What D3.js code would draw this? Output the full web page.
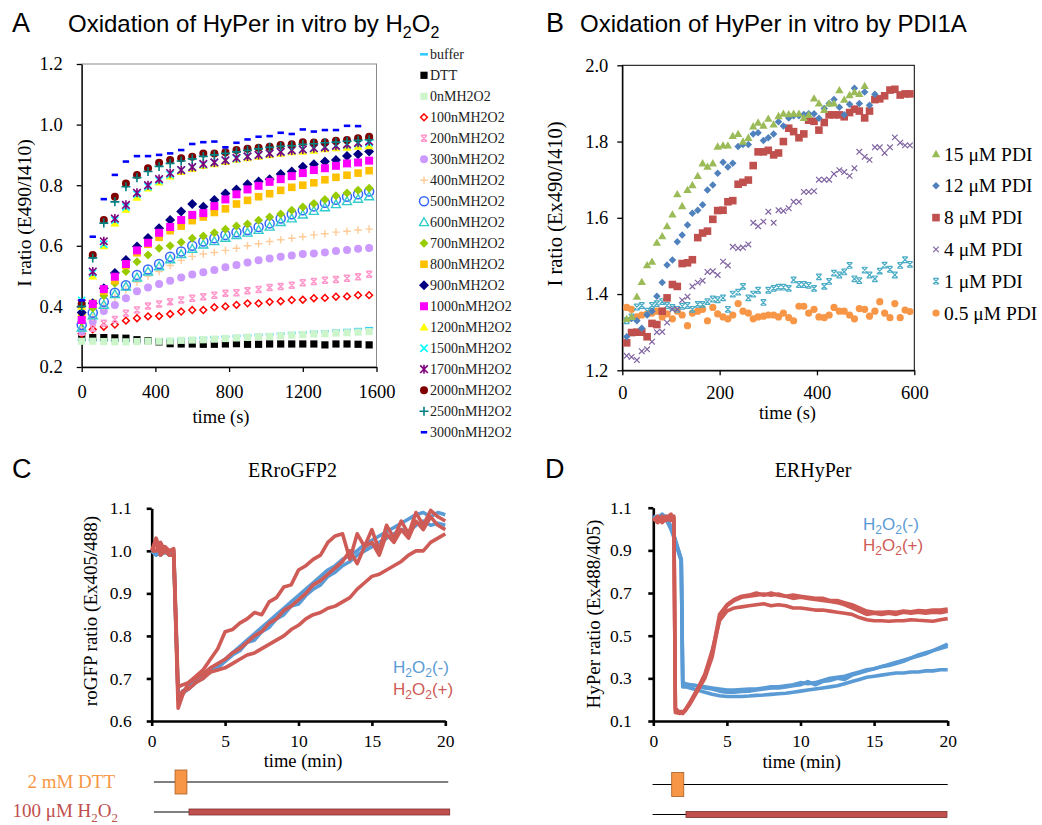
<!DOCTYPE html>
<html>
<head>
<meta charset="utf-8">
<script src="https://cdn.jsdelivr.net/npm/d3@7"></script>
<style>
body { margin: 0; background: #fff; }
</style>
</head>
<body>
<svg id="fig" width="1042" height="825"></svg>
<script>
// ---------- panel A : HyPer + H2O2 in vitro ----------
var timesA = [0,60,120,180,240,300,360,420,480,540,600,660,720,780,840,900,960,1020,1080,1140,1200,1260,1320,1380,1440,1500,1560]
var aBuffer = [0.290,0.288,0.288,0.287,0.287,0.288,0.288,0.289,0.290,0.292,0.294,0.296,0.298,0.300,0.302,0.304,0.306,0.308,0.310,0.312,0.314,0.316,0.318,0.320,0.322,0.325,0.328]
var aDTT = [0.295,0.297,0.297,0.296,0.295,0.290,0.287,0.283,0.277,0.276,0.276,0.275,0.275,0.276,0.277,0.275,0.275,0.276,0.276,0.276,0.276,0.276,0.273,0.276,0.276,0.275,0.273]
var a0 = [0.285,0.285,0.284,0.283,0.283,0.284,0.285,0.285,0.286,0.288,0.289,0.290,0.292,0.294,0.296,0.298,0.300,0.301,0.303,0.305,0.307,0.309,0.310,0.312,0.313,0.315,0.317]
var a100 = [0.310,0.324,0.333,0.340,0.353,0.361,0.367,0.368,0.375,0.383,0.388,0.388,0.397,0.400,0.405,0.410,0.410,0.415,0.417,0.421,0.422,0.427,0.428,0.432,0.433,0.437,0.437]
var a200 = [0.315,0.328,0.344,0.357,0.377,0.388,0.401,0.408,0.415,0.421,0.427,0.432,0.437,0.443,0.445,0.452,0.456,0.462,0.466,0.470,0.478,0.482,0.486,0.489,0.493,0.498,0.506]
var a300 = [0.320,0.350,0.385,0.405,0.427,0.450,0.462,0.474,0.485,0.495,0.505,0.513,0.520,0.529,0.537,0.545,0.552,0.558,0.564,0.568,0.573,0.575,0.578,0.583,0.586,0.590,0.593]
var a400 = [0.330,0.365,0.400,0.430,0.455,0.480,0.500,0.515,0.535,0.552,0.565,0.573,0.578,0.585,0.592,0.600,0.607,0.614,0.620,0.625,0.630,0.636,0.640,0.645,0.648,0.652,0.655]
var a500 = [0.339,0.379,0.415,0.445,0.470,0.504,0.522,0.540,0.564,0.581,0.600,0.614,0.625,0.636,0.645,0.652,0.662,0.674,0.690,0.704,0.717,0.730,0.742,0.752,0.762,0.770,0.779]
var a600 = [0.330,0.370,0.405,0.440,0.465,0.495,0.515,0.532,0.555,0.572,0.590,0.604,0.615,0.626,0.635,0.643,0.652,0.663,0.678,0.690,0.703,0.715,0.727,0.737,0.747,0.755,0.763]
var a700 = [0.350,0.395,0.435,0.476,0.515,0.547,0.570,0.592,0.600,0.612,0.625,0.632,0.643,0.655,0.665,0.672,0.684,0.695,0.705,0.717,0.728,0.740,0.753,0.765,0.774,0.783,0.790]
var a800 = [0.370,0.410,0.450,0.485,0.535,0.577,0.605,0.628,0.650,0.665,0.683,0.695,0.710,0.722,0.738,0.750,0.762,0.772,0.783,0.793,0.800,0.808,0.818,0.826,0.833,0.840,0.848]
var a900 = [0.380,0.410,0.460,0.510,0.553,0.598,0.626,0.658,0.685,0.713,0.738,0.729,0.751,0.773,0.786,0.803,0.812,0.820,0.837,0.845,0.861,0.869,0.878,0.883,0.896,0.902,0.911]
var a1000 = [0.355,0.408,0.457,0.498,0.540,0.585,0.610,0.643,0.662,0.685,0.702,0.708,0.731,0.753,0.770,0.786,0.798,0.811,0.820,0.830,0.840,0.850,0.856,0.864,0.872,0.875,0.881]
var a1200 = [0.400,0.500,0.600,0.675,0.720,0.760,0.790,0.810,0.830,0.845,0.855,0.865,0.870,0.878,0.885,0.890,0.895,0.900,0.905,0.910,0.912,0.915,0.920,0.923,0.925,0.928,0.930]
var a1500 = [0.420,0.510,0.605,0.685,0.728,0.770,0.795,0.815,0.835,0.850,0.860,0.868,0.875,0.882,0.888,0.895,0.900,0.905,0.910,0.915,0.918,0.922,0.926,0.930,0.933,0.937,0.940]
var a1700 = [0.410,0.515,0.615,0.690,0.735,0.775,0.800,0.820,0.840,0.850,0.860,0.870,0.875,0.882,0.890,0.895,0.900,0.905,0.910,0.915,0.918,0.922,0.925,0.930,0.935,0.940,0.945]
var a2000 = [0.408,0.570,0.685,0.762,0.806,0.834,0.856,0.874,0.883,0.889,0.894,0.905,0.905,0.909,0.916,0.920,0.924,0.927,0.933,0.935,0.942,0.941,0.942,0.947,0.949,0.955,0.960]
var a2500 = [0.400,0.560,0.675,0.745,0.795,0.825,0.845,0.862,0.872,0.880,0.887,0.895,0.900,0.905,0.910,0.915,0.920,0.925,0.928,0.930,0.935,0.937,0.940,0.942,0.945,0.948,0.950]
var a3000 = [0.420,0.630,0.754,0.834,0.878,0.896,0.896,0.900,0.905,0.916,0.936,0.942,0.944,0.925,0.940,0.951,0.960,0.962,0.973,0.969,0.984,0.977,0.982,0.982,0.996,0.995]
var xTicksA = [0,400,800,1200,1600]
var yTicksA = [0.2,0.4,0.6,0.8,1.0,1.2]

// ---------- panel B : HyPer + PDI1A ----------
var timesB = [9,19,30,40,51,61,71,82,92,103,113,123,134,144,155,165,175,186,196,207,217,227,238,248,259,269,279,290,300,311,321,331,342,352,363,373,383,394,404,415,425,435,446,456,467,477,487,498,508,519,529,539,550,560,571,581,591]
var b15 = [1.335,1.340,1.393,1.432,1.476,1.485,1.535,1.552,1.578,1.609,1.662,1.631,1.673,1.686,1.710,1.743,1.734,1.743,1.787,1.790,1.790,1.815,1.820,1.800,1.810,1.840,1.850,1.842,1.860,1.845,1.867,1.873,1.872,1.873,1.873,1.862,1.870,1.913,1.900,1.883,1.900,1.900,1.935,1.910,1.922,1.930,1.925,1.946]
var b12 = [1.288,1.336,1.330,1.310,1.345,1.355,1.394,1.430,1.476,1.489,1.537,1.555,1.581,1.612,1.620,1.634,1.673,1.686,1.717,1.746,1.733,1.743,1.787,1.792,1.792,1.820,1.823,1.803,1.810,1.820,1.852,1.841,1.862,1.868,1.868,1.871,1.873,1.873,1.861,1.887,1.900,1.910,1.890,1.870,1.898,1.940,1.900,1.930,1.895,1.924]
var b8 = [1.272,1.299,1.300,1.300,1.288,1.323,1.320,1.355,1.390,1.425,1.420,1.480,1.482,1.490,1.548,1.560,1.565,1.596,1.619,1.620,1.642,1.645,1.688,1.693,1.699,1.737,1.773,1.773,1.777,1.765,1.770,1.800,1.835,1.826,1.810,1.820,1.856,1.853,1.830,1.850,1.870,1.870,1.870,1.865,1.876,1.885,1.880,1.862,1.880,1.910,1.912,1.920,1.935,1.937,1.922,1.925,1.925]
var b4 = [1.238,1.235,1.227,1.250,1.255,1.275,1.300,1.301,1.325,1.360,1.360,1.384,1.393,1.420,1.430,1.435,1.458,1.460,1.450,1.485,1.475,1.524,1.520,1.522,1.530,1.587,1.578,1.590,1.616,1.587,1.620,1.618,1.625,1.642,1.642,1.668,1.668,1.670,1.700,1.700,1.700,1.715,1.725,1.720,1.710,1.730,1.773,1.760,1.752,1.785,1.785,1.770,1.785,1.811,1.797,1.790,1.790]
var b1 = [1.330,1.340,1.366,1.370,1.355,1.370,1.375,1.380,1.370,1.365,1.360,1.368,1.370,1.360,1.373,1.373,1.380,1.387,1.385,1.390,1.360,1.400,1.405,1.420,1.390,1.400,1.410,1.378,1.410,1.415,1.418,1.418,1.415,1.437,1.425,1.425,1.423,1.415,1.445,1.420,1.433,1.455,1.450,1.458,1.475,1.440,1.435,1.463,1.450,1.440,1.460,1.476,1.465,1.450,1.475,1.490,1.478]
var b05 = [1.365,1.360,1.340,1.345,1.348,1.350,1.355,1.340,1.348,1.335,1.355,1.345,1.317,1.350,1.355,1.360,1.330,1.365,1.348,1.340,1.335,1.345,1.375,1.355,1.350,1.335,1.340,1.342,1.345,1.345,1.340,1.350,1.338,1.330,1.368,1.368,1.350,1.360,1.340,1.338,1.345,1.365,1.355,1.355,1.345,1.335,1.362,1.360,1.342,1.355,1.380,1.350,1.338,1.375,1.338,1.358,1.354]
var xTicksB = [0,200,400,600]
var yTicksB = [1.2,1.4,1.6,1.8,2.0]

// ---------- panel C : ERroGFP2 ----------
var timesC = [0,0.3,0.6,0.9,1.2,1.5,1.8,2.1,2.5,3,3.5,4,4.5,5,5.5,6,6.5,7,7.5,8,8.5,9,9.5,10,10.5,11,11.5,12,12.5,13,13.5,14,14.5,15,15.5,16,16.5,17,17.5,18,18.5,19,19.5,20]
var cBlue1 = [1.0,0.99,1.0,0.995,1.0,0.99,0.665,0.665,0.675,0.69,0.705,0.715,0.73,0.745,0.76,0.775,0.79,0.805,0.82,0.835,0.85,0.865,0.88,0.895,0.91,0.925,0.94,0.955,0.965,0.98,0.99,1.0,1.015,1.025,1.035,1.045,1.055,1.065,1.075,1.085,1.09,1.08,1.09,1.085]
var cBlue2 = [1.0,1.0,0.99,1.0,0.99,1.0,0.655,0.67,0.68,0.695,0.7,0.72,0.725,0.74,0.755,0.765,0.785,0.79,0.81,0.82,0.84,0.85,0.87,0.875,0.895,0.91,0.92,0.94,0.95,0.965,0.975,0.99,1.0,1.01,1.02,1.03,1.04,1.05,1.045,1.06,1.07,1.06,1.065,1.06]
var cRed1 = [1.0,1.03,1.0,1.01,1.0,1.005,0.68,0.685,0.69,0.705,0.72,0.745,0.77,0.81,0.815,0.83,0.84,0.855,0.85,0.88,0.89,0.915,0.92,0.955,0.965,0.98,0.99,1.02,1.035,1.04,0.98,1.04,1.01,1.05,1.0,1.06,1.03,1.07,1.04,1.09,1.06,1.095,1.08,1.07]
var cRed2 = [1.0,1.02,0.99,1.0,0.99,0.99,0.63,0.66,0.69,0.7,0.71,0.725,0.735,0.745,0.76,0.77,0.785,0.8,0.81,0.83,0.84,0.86,0.87,0.885,0.9,0.92,0.93,0.945,0.96,0.975,1.0,0.97,1.01,1.02,0.99,1.04,1.02,1.05,1.03,1.07,1.05,1.08,1.06,1.05]
var cRed3 = [1.0,1.0,1.02,1.0,1.0,1.0,0.65,0.67,0.675,0.69,0.7,0.715,0.72,0.725,0.735,0.745,0.755,0.76,0.77,0.78,0.79,0.8,0.815,0.825,0.84,0.85,0.855,0.865,0.87,0.88,0.89,0.91,0.925,0.94,0.945,0.955,0.965,0.975,0.99,1.0,1.0,1.02,1.03,1.04]
var xTicksC = [0,5,10,15,20]
var yTicksC = [0.6,0.7,0.8,0.9,1.0,1.1]

// ---------- panel D : ERHyPer ----------
var timesD = [0,0.3,0.6,0.9,1.2,1.4,1.5,1.8,1.9,2.0,2.2,2.5,3,3.5,4,4.5,5,5.5,6,6.5,7,7.5,8,8.5,9,9.5,10,10.5,11,11.5,12,12.5,13,13.5,14,14.5,15,15.5,16,16.5,17,17.5,18,18.5,19,19.5,20]
var dBlue1 = [1.06,1.05,1.07,1.05,1.0,0.96,0.94,0.87,0.85,0.27,0.27,0.27,0.265,0.26,0.255,0.25,0.245,0.245,0.248,0.25,0.25,0.255,0.26,0.26,0.265,0.27,0.28,0.275,0.28,0.29,0.3,0.305,0.31,0.32,0.33,0.34,0.345,0.355,0.365,0.375,0.385,0.395,0.41,0.42,0.43,0.445,0.46]
var dBlue2 = [1.05,1.06,1.04,1.06,1.01,0.97,0.95,0.88,0.86,0.28,0.275,0.27,0.265,0.255,0.25,0.24,0.235,0.235,0.238,0.24,0.245,0.25,0.255,0.255,0.26,0.265,0.27,0.285,0.27,0.285,0.29,0.3,0.295,0.315,0.325,0.335,0.345,0.355,0.36,0.37,0.38,0.395,0.405,0.415,0.43,0.44,0.45]
var dBlue3 = [1.05,1.05,1.06,1.04,1.0,0.97,0.94,0.88,0.85,0.26,0.26,0.255,0.245,0.235,0.225,0.218,0.215,0.215,0.215,0.217,0.22,0.222,0.225,0.228,0.23,0.235,0.24,0.245,0.25,0.255,0.26,0.265,0.275,0.285,0.295,0.305,0.31,0.315,0.32,0.325,0.325,0.33,0.33,0.335,0.335,0.34,0.34]
var dRed1 = [1.05,1.03,1.06,1.04,1.05,1.06,0.15,0.14,0.14,0.135,0.15,0.18,0.24,0.3,0.40,0.58,0.64,0.665,0.68,0.685,0.69,0.695,0.69,0.695,0.685,0.69,0.685,0.68,0.675,0.675,0.665,0.665,0.655,0.645,0.63,0.615,0.61,0.61,0.612,0.61,0.615,0.612,0.618,0.615,0.62,0.62,0.625]
var dRed2 = [1.04,1.06,1.03,1.05,1.07,1.04,0.14,0.135,0.14,0.14,0.155,0.185,0.245,0.31,0.42,0.6,0.645,0.67,0.685,0.69,0.70,0.69,0.70,0.69,0.685,0.675,0.68,0.675,0.67,0.665,0.66,0.655,0.645,0.63,0.615,0.6,0.605,0.6,0.605,0.6,0.61,0.605,0.61,0.605,0.61,0.608,0.615]
var dRed3 = [1.05,1.04,1.05,1.06,1.04,1.05,0.16,0.14,0.145,0.14,0.155,0.19,0.25,0.32,0.43,0.57,0.615,0.63,0.635,0.64,0.645,0.65,0.64,0.645,0.64,0.63,0.63,0.625,0.62,0.62,0.615,0.61,0.605,0.6,0.585,0.575,0.57,0.57,0.568,0.57,0.57,0.575,0.572,0.57,0.568,0.575,0.58]
var xTicksD = [0,5,10,15,20]
var yTicksD = [0.1,0.3,0.5,0.7,0.9,1.1]

// treatment windows (min)
var lineC = [0.15, 20.2], dttC = [1.59, 2.4], h2o2C = [2.54, 20.3]
var lineD = [-0.05, 20], dttD = [1.25, 2.07], h2o2D = [2.22, 19.95]

var SERIF = '"Liberation Serif","Times New Roman",serif'
var SANS = '"Liberation Sans",Arial,sans-serif'
var RED = '#cf5b56', BLUE = '#5b9bd5'

var svg = d3.select('#fig')
svg.append('rect').attr('width', 1042).attr('height', 825).attr('fill', '#fff')

function mk(shape, s) {
  var x = 'M' + -s + ',' + -s + 'L' + s + ',' + s + 'M' + s + ',' + -s + 'L' + -s + ',' + s
  if (shape == 'square') return 'M' + -s + ',' + -s + 'h' + 2 * s + 'v' + 2 * s + 'h' + -2 * s + 'Z'
  if (shape == 'diamond') { var r = s * 1.25; return 'M0,' + -r + 'L' + r + ',0L0,' + r + 'L' + -r + ',0Z' }
  if (shape == 'triangle') return 'M0,' + -s + 'L' + s + ',' + s * 0.75 + 'L' + -s + ',' + s * 0.75 + 'Z'
  if (shape == 'circle') return 'M' + s + ',0A' + s + ',' + s + ' 0 1 1 ' + -s + ',0A' + s + ',' + s + ' 0 1 1 ' + s + ',0Z'
  if (shape == 'dash') return 'M' + -s + ',-1.3h' + 2 * s + 'v2.6h' + -2 * s + 'Z'
  if (shape == 'plus') return 'M' + -s + ',0H' + s + 'M0,' + -s + 'V' + s
  if (shape == 'x') return x
  if (shape == 'star') return x + 'M0,' + -s * 1.2 + 'V' + s * 1.2
  if (shape == 'xbar') return x + 'M' + -s + ',' + -s + 'H' + s + 'M' + -s + ',' + s + 'H' + s
}

function styleMark(sel, st) {
  var open = ['plus', 'x', 'star', 'xbar'].indexOf(st.shape) >= 0 || st.open
  sel.attr('d', mk(st.shape, st.size))
    .attr('fill', open ? 'none' : st.color)
    .attr('stroke', open ? st.color : 'none')
    .attr('stroke-width', st.sw || 1.4)
}

function styleAxis(g, fs, sw) {
  g.attr('font-family', SERIF).attr('font-size', fs)
  g.selectAll('text').attr('fill', '#000')
  g.selectAll('path,line').attr('stroke', '#000').attr('stroke-width', sw)
}

// text with subscripts: parts = [[text, isSub], ...]
function rich(sel, parts, subSize, shift) {
  var down = false
  parts.forEach(function(p) {
    var ts = sel.append('tspan').text(p[0])
    if (p[1]) { ts.attr('font-size', subSize); if (!down) { ts.attr('dy', shift); down = true } }
    else if (down) { ts.attr('dy', -shift); down = false }
  })
  return sel
}

function label(x, y, txt, opt) {
  var t = svg.append('text').attr('x', x).attr('y', y).text(txt)
    .attr('font-family', opt.font || SERIF).attr('font-size', opt.size)
    .attr('fill', opt.color || '#000').attr('text-anchor', opt.anchor || 'start')
  if (opt.rotate) t.attr('transform', 'rotate(-90,' + x + ',' + y + ')')
  return t
}

// ================= A =================
var xA = d3.scaleLinear().domain([0, 1600]).range([81.7, 376.5])
var yA = d3.scaleLinear().domain([0.2, 1.2]).range([367, 64])
var seriesA = [
  ['buffer', aBuffer], ['DTT', aDTT], ['0nMH2O2', a0], ['100nMH2O2', a100], ['200nMH2O2', a200],
  ['300nMH2O2', a300], ['400nMH2O2', a400], ['500nMH2O2', a500], ['600nMH2O2', a600],
  ['700nMH2O2', a700], ['800nMH2O2', a800], ['900nMH2O2', a900], ['1000nMH2O2', a1000],
  ['1200nMH2O2', a1200], ['1500nMH2O2', a1500], ['1700nMH2O2', a1700], ['2000nMH2O2', a2000],
  ['2500nMH2O2', a2500], ['3000nMH2O2', a3000]
]
var styleA = {
  'buffer': { shape: 'dash', size: 4, color: '#33ccff' },
  'DTT': { shape: 'square', size: 3.6, color: '#000' },
  '0nMH2O2': { shape: 'square', size: 3.6, color: '#ccf5cc' },
  '100nMH2O2': { shape: 'diamond', size: 2.7, color: '#ff0000', open: true, sw: 1.5 },
  '200nMH2O2': { shape: 'xbar', size: 3, color: '#ff99cc', sw: 1.5 },
  '300nMH2O2': { shape: 'circle', size: 4, color: '#cc99ff' },
  '400nMH2O2': { shape: 'plus', size: 3.8, color: '#ffcc99', sw: 1.4 },
  '500nMH2O2': { shape: 'circle', size: 4.5, color: '#3366ff', open: true, sw: 1.5 },
  '600nMH2O2': { shape: 'triangle', size: 4.5, color: '#33cccc', open: true, sw: 1.4 },
  '700nMH2O2': { shape: 'diamond', size: 3.6, color: '#99cc00' },
  '800nMH2O2': { shape: 'square', size: 3.8, color: '#ffc000' },
  '900nMH2O2': { shape: 'diamond', size: 4, color: '#000080' },
  '1000nMH2O2': { shape: 'square', size: 4, color: '#ff00ff' },
  '1200nMH2O2': { shape: 'triangle', size: 4.5, color: '#ffff00' },
  '1500nMH2O2': { shape: 'x', size: 3.6, color: '#00ffff', sw: 1.6 },
  '1700nMH2O2': { shape: 'star', size: 3.8, color: '#800080', sw: 1.6 },
  '2000nMH2O2': { shape: 'circle', size: 4, color: '#800000' },
  '2500nMH2O2': { shape: 'plus', size: 4.5, color: '#008080', sw: 1.6 },
  '3000nMH2O2': { shape: 'dash', size: 3.2, color: '#0000ff' }
}

var gA = svg.append('g')
gA.append('rect').attr('x', 81.7).attr('y', 64).attr('width', 376.5 - 81.7).attr('height', 303)
  .attr('fill', 'none').attr('stroke', '#8a8a8a').attr('stroke-width', 1)
var axAy = gA.append('g').attr('transform', 'translate(81.7,0)')
  .call(d3.axisLeft(yA).tickValues(yTicksA).tickSize(5).tickSizeOuter(0).tickPadding(14).tickFormat(d3.format('.1f')))
styleAxis(axAy, 18.5, 1.3)
var axAx = gA.append('g').attr('transform', 'translate(0,367)')
  .call(d3.axisBottom(xA).tickValues(xTicksA).tickSize(5).tickSizeOuter(0).tickPadding(13).tickFormat(d3.format('d')))
styleAxis(axAx, 18.5, 1.3)

seriesA.forEach(function(s) {
  var st = styleA[s[0]]
  gA.append('g').selectAll('path')
    .data(s[1].map(function(v, i) { return [timesA[i], v] }))
    .join('path')
    .attr('transform', function(d) { return 'translate(' + xA(d[0]) + ',' + yA(d[1]) + ')' })
    .call(styleMark, st)
})

// legend A
seriesA.forEach(function(s, i) {
  var cy = 54.3 + i * 20.996
  gA.append('path').attr('transform', 'translate(424,' + cy + ')').call(styleMark, styleA[s[0]])
  label(430, cy + 5, s[0], { size: 14, color: '#222' })
})

label(12, 32, 'A', { font: SANS, size: 27 })
rich(label(68, 32, '', { font: SANS, size: 24 }),
  [['Oxidation of HyPer in vitro by H'], ['2', 1], ['O'], ['2', 1]], 16, 6)
label(31, 213, 'I ratio (E490/I410)', { size: 19.5, anchor: 'middle', rotate: true })
label(221, 423, 'time (s)', { size: 18.5, anchor: 'middle' })

// ================= B =================
var xB = d3.scaleLinear().domain([0, 600]).range([622.3, 914.3])
var yB = d3.scaleLinear().domain([1.2, 2.0]).range([370.3, 65.3])
var seriesB = [
  ['15 \u03bcM PDI', b15], ['12 \u03bcM PDI', b12], ['8 \u03bcM PDI', b8],
  ['4 \u03bcM PDI', b4], ['1 \u03bcM PDI', b1], ['0.5 \u03bcM PDI', b05]
]
var styleB = [
  { shape: 'triangle', size: 4.2, color: '#9bbb59' },
  { shape: 'diamond', size: 3, color: '#4f81bd' },
  { shape: 'square', size: 3.8, color: '#c0504d' },
  { shape: 'x', size: 2.8, color: '#8064a2', sw: 1.2 },
  { shape: 'xbar', size: 2.8, color: '#4bacc6', sw: 1.2 },
  { shape: 'circle', size: 3.6, color: '#f79646' }
]
var gB = svg.append('g')
gB.append('rect').attr('x', 622.3).attr('y', 65.3).attr('width', 292).attr('height', 305)
  .attr('fill', 'none').attr('stroke', '#000').attr('stroke-width', 1)
var axBy = gB.append('g').attr('transform', 'translate(622.3,0)')
  .call(d3.axisLeft(yB).tickValues(yTicksB).tickSize(5).tickSizeOuter(0).tickPadding(9).tickFormat(d3.format('.1f')))
styleAxis(axBy, 18.5, 1.3)
var axBx = gB.append('g').attr('transform', 'translate(0,370.3)')
  .call(d3.axisBottom(xB).tickValues(xTicksB).tickSize(5).tickSizeOuter(0).tickPadding(11).tickFormat(d3.format('d')))
styleAxis(axBx, 18.5, 1.3)

seriesB.slice().reverse().forEach(function(s, k) {
  var st = styleB[seriesB.length - 1 - k]
  gB.append('g').selectAll('path')
    .data(s[1].map(function(v, i) { return [timesB[i], v] }))
    .join('path')
    .attr('transform', function(d) { return 'translate(' + xB(d[0]) + ',' + yB(d[1]) + ')' })
    .call(styleMark, st)
})
seriesB.forEach(function(s, i) {
  var cy = 154 + i * 31.8
  gB.append('path').attr('transform', 'translate(936,' + cy + ')').call(styleMark, styleB[i])
  label(944, cy + 6.5, s[0], { size: 19.5 })
})

label(546, 32, 'B', { font: SANS, size: 27 })
label(580, 32, 'Oxidation of HyPer in vitro by PDI1A', { font: SANS, size: 24 })
label(562, 204, 'I ratio (Ex490/I410)', { size: 20.5, anchor: 'middle', rotate: true })
label(787.5, 419, 'time (s)', { size: 18.5, anchor: 'middle' })

// ================= C / D (time courses) =================
function timeCourse(o) {
  var g = svg.append('g')
  var ax = g.append('g').attr('transform', 'translate(' + o.x.range()[0] + ',0)')
    .call(d3.axisLeft(o.y).tickValues(o.yTicks).tickSize(5).tickSizeOuter(0).tickPadding(o.yPad).tickFormat(d3.format('.1f')))
  styleAxis(ax, 17.5, 2.6)
  var bx = g.append('g').attr('transform', 'translate(0,' + o.y.range()[0] + ')')
    .call(d3.axisBottom(o.x).tickValues(o.xTicks).tickSize(5).tickSizeOuter(0).tickPadding(9).tickFormat(d3.format('d')))
  styleAxis(bx, 17.5, 2.6)
  var line = d3.line().x(function(d) { return o.x(d[0]) }).y(function(d) { return o.y(d[1]) })
  o.traces.forEach(function(tr) {
    g.append('path')
      .datum(tr[0].map(function(v, i) { return [o.times[i], v] }))
      .attr('d', line).attr('fill', 'none').attr('stroke', tr[1])
      .attr('stroke-width', 3.6).attr('stroke-linejoin', 'round')
  })
  // treatment timeline
  g.append('line').attr('x1', o.x(o.line[0])).attr('x2', o.x(o.line[1]))
    .attr('y1', o.dttY).attr('y2', o.dttY).attr('stroke', '#000').attr('stroke-width', 1)
  g.append('line').attr('x1', o.x(o.line[0])).attr('x2', o.x(o.h2o2[0]))
    .attr('y1', o.h2o2Y).attr('y2', o.h2o2Y).attr('stroke', '#000').attr('stroke-width', 1)
  g.append('rect').attr('x', o.x(o.dtt[0])).attr('width', o.x(o.dtt[1]) - o.x(o.dtt[0]))
    .attr('y', o.dttY - 12).attr('height', 24)
    .attr('fill', '#f79646').attr('stroke', '#a85d22').attr('stroke-width', 0.8)
  g.append('rect').attr('x', o.x(o.h2o2[0])).attr('width', o.x(o.h2o2[1]) - o.x(o.h2o2[0]))
    .attr('y', o.h2o2Y - 3).attr('height', 6)
    .attr('fill', '#c0504d').attr('stroke', '#7d2f2c').attr('stroke-width', 0.8)
  return g
}

var xC = d3.scaleLinear().domain([0, 20]).range([151.7, 445.3])
var yC = d3.scaleLinear().domain([0.6, 1.1]).range([721, 508.3])
timeCourse({ x: xC, y: yC, xTicks: xTicksC, yTicks: yTicksC, yPad: 15, times: timesC,
  traces: [[cBlue1, BLUE], [cBlue2, BLUE], [cRed3, RED], [cRed2, RED], [cRed1, RED]],
  line: lineC, dtt: dttC, h2o2: h2o2C, dttY: 782, h2o2Y: 812 })

var xD = d3.scaleLinear().domain([0, 20]).range([653.3, 947.7])
var yD = d3.scaleLinear().domain([0.1, 1.1]).range([721, 507.7])
timeCourse({ x: xD, y: yD, xTicks: xTicksD, yTicks: yTicksD, yPad: 16.5, times: timesD,
  traces: [[dBlue1, BLUE], [dBlue2, BLUE], [dBlue3, BLUE], [dRed3, RED], [dRed2, RED], [dRed1, RED]],
  line: lineD, dtt: dttD, h2o2: h2o2D, dttY: 784.5, h2o2Y: 814.5 })

label(12, 478, 'C', { font: SANS, size: 27 })
label(292.5, 477, 'ERroGFP2', { size: 20, anchor: 'middle' })
label(97, 611, 'roGFP ratio (Ex405/488)', { size: 19, anchor: 'middle', rotate: true })
label(303, 767, 'time (min)', { size: 18.5, anchor: 'middle' })
rich(label(393, 673, '', { font: SANS, size: 17, color: BLUE }), [['H'], ['2', 1], ['O'], ['2', 1], ['(-)']], 12, 4)
rich(label(393, 695, '', { font: SANS, size: 17, color: RED }), [['H'], ['2', 1], ['O'], ['2', 1], ['(+)']], 12, 4)
label(115, 788, '2 mM DTT', { size: 19, anchor: 'end', color: '#f79646' })
rich(label(118, 817, '', { size: 19, anchor: 'end', color: '#c0504d' }),
  [['100 \u03bcM H'], ['2', 1], ['O'], ['2', 1]], 13, 5)

label(545, 478, 'D', { font: SANS, size: 27 })
label(813, 477, 'ERHyPer', { size: 20, anchor: 'middle' })
label(600, 614, 'HyPer ratio (Ex488/405)', { size: 19, anchor: 'middle', rotate: true })
label(801.7, 768, 'time (min)', { size: 18.5, anchor: 'middle' })
rich(label(863, 530, '', { font: SANS, size: 17, color: BLUE }), [['H'], ['2', 1], ['O'], ['2', 1], ['(-)']], 12, 4)
rich(label(863, 551, '', { font: SANS, size: 17, color: RED }), [['H'], ['2', 1], ['O'], ['2', 1], ['(+)']], 12, 4)
</script>
</body>
</html>
